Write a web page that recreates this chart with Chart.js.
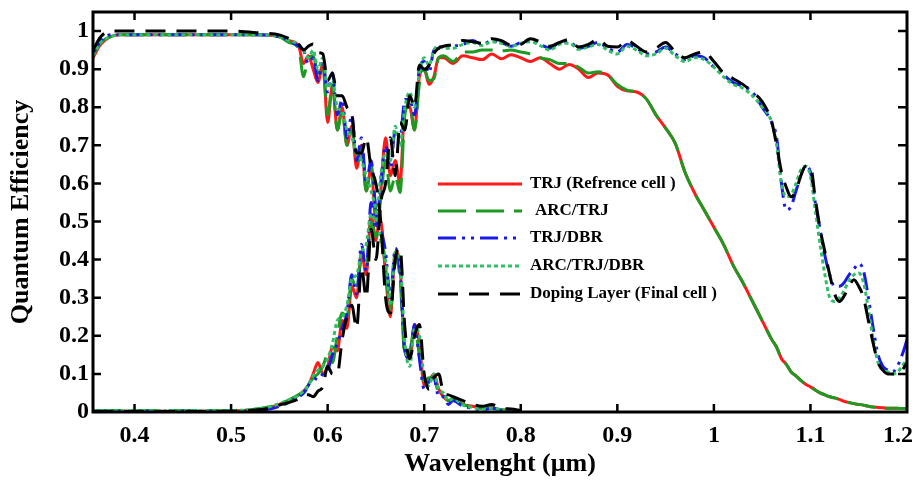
<!DOCTYPE html>
<html>
<head>
<meta charset="utf-8">
<script src="https://cdn.jsdelivr.net/npm/chart.js@4.4.1/dist/chart.umd.min.js"></script>
<style>
html,body{margin:0;padding:0;background:#fff;}
#wrap{width:919px;height:485px;position:relative;}
</style>
</head>
<body>
<div id="wrap"><canvas id="c" width="919" height="485"></canvas></div>
<script>
// ---------- data ----------
const seriesNames = ['TRJ (Refrence cell )', 'ARC/TRJ', 'TRJ/DBR', 'ARC/TRJ/DBR', 'Doping Layer (Final cell )'];
const xTicks = [0.4, 0.5, 0.6, 0.7, 0.8, 0.9, 1.0, 1.1, 1.2];
const yTicks = [0, 0.1, 0.2, 0.3, 0.4, 0.5, 0.6, 0.7, 0.8, 0.9, 1.0];

// top-cell wavelengths (µm)
const wlTop = [0.357,0.365,0.375,0.385,0.40,0.45,0.50,0.53,0.55,0.56,
  0.57,0.575,0.58,0.585,0.59,0.595,0.60,0.605,0.61,0.615,
  0.62,0.625,0.63,0.635,0.64,0.645,0.65,0.655,0.66,0.665,
  0.67,0.675,0.68,0.685,0.69,0.695,0.70,0.705,0.71,0.715,
  0.72,0.725,0.73,0.74,0.75,0.76,0.77,0.78,0.79,0.80];
const trjTop = [0.93,0.965,0.985,0.99,0.99,0.99,0.99,0.99,0.985,0.975,
  0.96,0.915,0.935,0.90,0.865,0.915,0.76,0.86,0.74,0.80,
  0.70,0.75,0.64,0.70,0.58,0.64,0.50,0.50,0.36,0.25,
  0.42,0.38,0.16,0.14,0.23,0.18,0.07,0.08,0.10,0.06,
  0.04,0.03,0.035,0.02,0.015,0.01,0.012,0.005,0.006,0.002];
const arcTop = [0.935,0.97,0.985,0.99,0.99,0.99,0.99,0.99,0.985,0.97,
  0.955,0.88,0.93,0.935,0.89,0.91,0.78,0.86,0.74,0.79,
  0.70,0.74,0.655,0.69,0.58,0.65,0.52,0.47,0.38,0.27,
  0.40,0.35,0.15,0.16,0.22,0.15,0.08,0.09,0.09,0.05,
  0.045,0.03,0.03,0.02,0.012,0.01,0.01,0.006,0.004,0.002];
const dbrTop = [0.94,0.975,0.99,0.99,0.99,0.99,0.99,0.99,0.985,0.975,
  0.96,0.95,0.915,0.93,0.87,0.92,0.84,0.89,0.78,0.82,
  0.72,0.78,0.66,0.72,0.60,0.66,0.53,0.48,0.42,0.30,
  0.43,0.37,0.16,0.14,0.23,0.14,0.06,0.08,0.09,0.04,
  0.04,0.02,0.03,0.015,0.01,0.005,0.01,0.004,0.003,0.002];
const arcDbrTop = [0.935,0.97,0.985,0.99,0.99,0.99,0.99,0.99,0.985,0.975,
  0.965,0.95,0.93,0.95,0.90,0.93,0.85,0.87,0.80,0.79,
  0.74,0.72,0.68,0.66,0.62,0.58,0.53,0.45,0.40,0.28,
  0.42,0.40,0.18,0.12,0.22,0.20,0.09,0.07,0.10,0.06,
  0.05,0.03,0.035,0.018,0.012,0.008,0.01,0.005,0.004,0.002];
const dopTop = [0.95,0.985,1.0,1.0,1.0,1.0,1.0,0.995,0.99,0.98,
  0.965,0.95,0.96,0.966,0.944,0.94,0.87,0.89,0.83,0.83,
  0.80,0.78,0.68,0.68,0.72,0.64,0.60,0.50,0.30,0.26,
  0.40,0.43,0.22,0.14,0.20,0.23,0.10,0.06,0.09,0.10,
  0.05,0.045,0.04,0.03,0.02,0.015,0.02,0.01,0.008,0.004];

// bottom-cell wavelengths (µm)
const wlBot = [0.357,0.40,0.45,0.50,0.52,0.54,0.55,0.56,0.57,0.575,
  0.58,0.585,0.59,0.595,0.60,0.605,0.61,0.615,0.62,0.625,
  0.63,0.635,0.64,0.645,0.65,0.655,0.66,0.665,0.67,0.675,
  0.68,0.685,0.69,0.695,0.70,0.705,0.71,0.715,0.72,0.73,
  0.74,0.75,0.76,0.77,0.78,0.79,0.80,0.81,0.82,0.83,
  0.84,0.85,0.86,0.87,0.88,0.89,0.90,0.91,0.92,0.93,
  0.94,0.95,0.96,0.97,0.98,0.99,1.00,1.01,1.02,1.03,
  1.04,1.05,1.06,1.065,1.07,1.075,1.08,1.085,1.09,1.095,
  1.10,1.105,1.11,1.115,1.12,1.125,1.13,1.135,1.14,1.145,
  1.15,1.155,1.16,1.165,1.17,1.175,1.18,1.185,1.19,1.195,
  1.20];
const trjBot = [0.003,0.002,0.002,0.003,0.005,0.012,0.02,0.03,0.045,0.055,
  0.07,0.10,0.13,0.10,0.12,0.17,0.16,0.24,0.22,0.33,
  0.30,0.42,0.36,0.52,0.45,0.58,0.72,0.62,0.66,0.60,
  0.80,0.80,0.74,0.88,0.90,0.86,0.88,0.93,0.93,0.915,
  0.935,0.93,0.925,0.94,0.927,0.938,0.93,0.92,0.93,0.915,
  0.90,0.912,0.90,0.878,0.89,0.885,0.855,0.843,0.84,0.822,
  0.78,0.745,0.705,0.63,0.575,0.53,0.485,0.44,0.385,0.34,
  0.29,0.24,0.19,0.17,0.14,0.125,0.105,0.095,0.083,0.073,
  0.066,0.058,0.05,0.045,0.04,0.037,0.033,0.028,0.025,0.022,
  0.02,0.018,0.015,0.013,0.012,0.011,0.01,0.01,0.01,0.009,
  0.009];
const arcBot = [0.004,0.004,0.004,0.004,0.006,0.014,0.022,0.032,0.045,0.05,
  0.065,0.09,0.10,0.12,0.15,0.13,0.20,0.26,0.25,0.35,
  0.32,0.40,0.38,0.50,0.46,0.56,0.66,0.58,0.62,0.576,
  0.78,0.81,0.74,0.86,0.90,0.87,0.875,0.93,0.935,0.92,
  0.945,0.945,0.95,0.95,0.948,0.95,0.945,0.94,0.93,0.925,
  0.915,0.915,0.905,0.89,0.893,0.885,0.86,0.845,0.84,0.822,
  0.78,0.745,0.705,0.63,0.575,0.53,0.485,0.44,0.385,0.34,
  0.29,0.24,0.19,0.17,0.14,0.125,0.105,0.095,0.083,0.073,
  0.066,0.058,0.05,0.045,0.04,0.037,0.033,0.028,0.025,0.022,
  0.02,0.018,0.015,0.013,0.012,0.011,0.01,0.01,0.01,0.009,
  0.009];
const dbrBot = [0.002,0.002,0.002,0.002,0.003,0.008,0.015,0.025,0.04,0.05,
  0.07,0.09,0.085,0.10,0.11,0.15,0.18,0.22,0.26,0.36,
  0.31,0.44,0.37,0.55,0.48,0.60,0.70,0.64,0.74,0.72,
  0.82,0.82,0.78,0.90,0.92,0.89,0.95,0.955,0.955,0.96,
  0.965,0.975,0.965,0.975,0.97,0.96,0.97,0.975,0.965,0.955,
  0.97,0.972,0.955,0.96,0.97,0.955,0.945,0.965,0.955,0.94,
  0.945,0.958,0.94,0.925,0.935,0.93,0.905,0.885,0.865,0.855,
  0.84,0.80,0.76,0.72,0.6,0.53,0.54,0.58,0.62,0.645,
  0.63,0.55,0.48,0.41,0.36,0.33,0.33,0.34,0.36,0.375,
  0.39,0.37,0.30,0.22,0.15,0.12,0.11,0.105,0.12,0.15,
  0.19];
const arcDbrBot = [0.003,0.003,0.003,0.004,0.006,0.014,0.022,0.032,0.045,0.055,
  0.07,0.095,0.11,0.12,0.14,0.18,0.24,0.25,0.28,0.35,
  0.36,0.42,0.44,0.52,0.50,0.62,0.68,0.66,0.75,0.70,
  0.80,0.84,0.80,0.89,0.93,0.91,0.95,0.96,0.955,0.955,
  0.965,0.97,0.962,0.972,0.968,0.96,0.968,0.972,0.962,0.95,
  0.965,0.968,0.952,0.958,0.965,0.95,0.94,0.96,0.95,0.935,
  0.94,0.955,0.935,0.92,0.93,0.925,0.905,0.88,0.86,0.85,
  0.83,0.80,0.76,0.70,0.6,0.565,0.57,0.60,0.635,0.645,
  0.62,0.53,0.44,0.36,0.30,0.29,0.30,0.32,0.345,0.36,
  0.365,0.34,0.27,0.19,0.13,0.11,0.105,0.10,0.105,0.12,
  0.14];
const dopBot = [0.001,0.001,0.001,0.002,0.004,0.01,0.018,0.025,0.035,0.045,
  0.045,0.04,0.055,0.066,0.12,0.10,0.10,0.19,0.25,0.28,
  0.22,0.38,0.30,0.48,0.40,0.55,0.60,0.72,0.62,0.76,
  0.74,0.83,0.80,0.91,0.90,0.91,0.94,0.955,0.96,0.965,
  0.975,0.972,0.968,0.98,0.975,0.963,0.965,0.98,0.972,0.96,
  0.97,0.978,0.958,0.965,0.978,0.96,0.958,0.975,0.96,0.945,
  0.955,0.97,0.945,0.93,0.94,0.945,0.92,0.89,0.875,0.86,
  0.84,0.815,0.76,0.70,0.63,0.59,0.565,0.58,0.62,0.645,
  0.645,0.56,0.48,0.42,0.36,0.31,0.29,0.305,0.33,0.347,
  0.33,0.30,0.24,0.18,0.13,0.11,0.10,0.10,0.10,0.11,
  0.13];

// ---------- styles ----------
const styles = [
  {color:'#ff1a1a', dash:[], width:3, order:5},
  {color:'#1c9a22', dash:[28,10], width:3, order:4},
  {color:'#1a1ae6', dash:[18,6,3,6,3,6], width:3, order:3},
  {color:'#2fbf66', dash:[4,3], width:3, order:2},
  {color:'#000000', dash:[20,11], width:3, order:1}
];
const topSets = [trjTop, arcTop, dbrTop, arcDbrTop, dopTop];
const botSets = [trjBot, arcBot, dbrBot, arcDbrBot, dopBot];

function pts(xs, ys){ return xs.map((x,i)=>({x:x, y:ys[i]})); }

const datasets = [];
seriesNames.forEach((name, k) => {
  const s = styles[k];
  [[wlTop, topSets[k]], [wlBot, botSets[k]]].forEach(([xs, ys], j) => {
    datasets.push({
      label: name, data: pts(xs, ys),
      borderColor: s.color, backgroundColor: s.color,
      borderWidth: s.width, borderDash: s.dash,
      pointRadius: 0,
      tension: j === 0 ? 0.1 : 0.25,
      cubicInterpolationMode: 'monotone',
      fill: false, order: s.order
    });
  });
});

const serif = "'Liberation Serif', 'Times New Roman', serif";

const framePlugin = {
  id: 'frame',
  afterDraw(chart) {
    const {ctx, chartArea: a, scales} = chart;
    ctx.save();
    ctx.strokeStyle = '#000';
    ctx.lineWidth = 2.5;
    ctx.beginPath();
    const tl = 8;
    xTicks.forEach(v => {
      const px = scales.x.getPixelForValue(v);
      if (px < a.right - 2) {
        ctx.moveTo(px, a.bottom); ctx.lineTo(px, a.bottom - tl);
        ctx.moveTo(px, a.top); ctx.lineTo(px, a.top + tl);
      }
    });
    yTicks.forEach(v => {
      const py = scales.y.getPixelForValue(v);
      if (py < a.bottom - 2) {
        ctx.moveTo(a.left, py); ctx.lineTo(a.left + tl, py);
        ctx.moveTo(a.right, py); ctx.lineTo(a.right - tl - 1, py);
      }
    });
    ctx.stroke();
    ctx.lineWidth = 3;
    ctx.strokeRect(a.left, a.top, a.right - a.left, a.bottom - a.top);

    // legend
    const rows = [184, 211, 238, 266, 294];
    const textX = [530, 535, 530, 530, 530];
    ctx.font = "bold 17px " + serif;
    ctx.textBaseline = 'middle';
    ctx.textAlign = 'left';
    seriesNames.forEach((name, k) => {
      const s = styles[k];
      ctx.strokeStyle = s.color;
      ctx.lineWidth = s.width;
      ctx.setLineDash(s.dash);
      ctx.beginPath();
      ctx.moveTo(438, rows[k]); ctx.lineTo(522, rows[k]);
      ctx.stroke();
      ctx.setLineDash([]);
      ctx.fillStyle = '#000';
      ctx.fillText(name, textX[k], rows[k]);
    });
    ctx.restore();
  }
};

new Chart(document.getElementById('c'), {
  type: 'line',
  data: { datasets },
  options: {
    responsive: false, animation: false,
    layout: { padding: { left: 0, right: 12, top: 12, bottom: 0 } },
    plugins: { legend: { display: false }, tooltip: { enabled: false } },
    scales: {
      x: {
        type: 'linear', min: 0.357, max: 1.2,
        afterBuildTicks: (s) => { s.ticks = xTicks.map(v => ({value: v})); },
        afterFit: (s) => { s.height = 73; s.paddingLeft = 0; s.paddingRight = 0; },
        grid: { display: false, drawTicks: false },
        border: { display: false },
        ticks: {
          padding: 9, color: '#000', maxRotation: 0, autoSkip: false,
          font: { family: serif, weight: 'bold', size: 24 },
          callback: (v) => {
            const t = (Math.abs(v - 1) < 1e-9) ? '1' : v.toFixed(1);
            return Math.abs(v - 1.2) < 1e-9 ? t + '   ' : t;
          }
        },
        title: {
          display: true, text: 'Wavelenght (\u03bcm)', color: '#000',
          font: { family: serif, weight: 'bold', size: 26 },
          padding: { top: 0, bottom: 5 }
        }
      },
      y: {
        min: 0, max: 1.05,
        afterBuildTicks: (s) => { s.ticks = yTicks.map(v => ({value: v})); },
        afterFit: (s) => { s.width = 93; s.paddingTop = 0; s.paddingBottom = 0; },
        grid: { display: false, drawTicks: false },
        border: { display: false },
        ticks: {
          padding: 4, color: '#000', autoSkip: false,
          font: { family: serif, weight: 'bold', size: 24 },
          callback: (v) => (v === 0 ? '0' : (Math.abs(v - 1) < 1e-9 ? '1' : v.toFixed(1)))
        },
        title: {
          display: true, text: 'Quantum Efficiency', color: '#000',
          font: { family: serif, weight: 'bold', size: 26 },
          padding: { top: 6, bottom: 0 }
        }
      }
    }
  },
  plugins: [framePlugin]
});
</script>
</body>
</html>
